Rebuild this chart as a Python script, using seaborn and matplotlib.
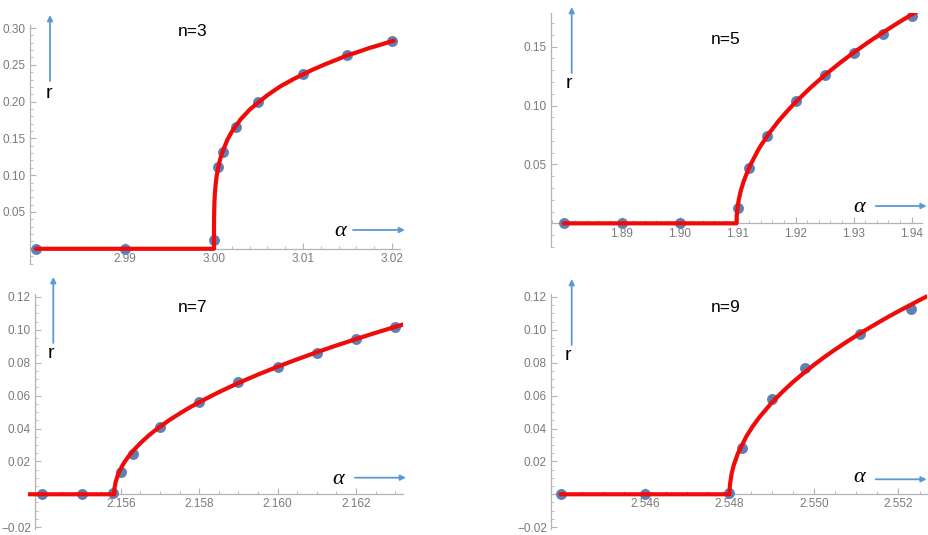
import matplotlib
matplotlib.use("Agg")
import matplotlib.pyplot as plt
from matplotlib.ticker import FixedLocator, MultipleLocator, FixedFormatter
import seaborn as sns

# ---------------- data ----------------
# n = 3
n3_alpha = [2.98, 2.99, 3.0, 3.0005, 3.001, 3.0025, 3.005, 3.01, 3.015, 3.02]
n3_r = [0.0, 0.0, 0.012, 0.111, 0.132, 0.166, 0.199, 0.237, 0.263, 0.282]
n3_curve_alpha = [2.98, 3.0, 3.0000001, 3.000001, 3.00001, 3.00005, 3.0001, 3.0002,
                  3.0003, 3.0005, 3.0007, 3.001, 3.0015, 3.002, 3.003, 3.0035, 3.004,
                  3.005, 3.006, 3.007, 3.0075, 3.008, 3.009, 3.01, 3.011, 3.0125,
                  3.014, 3.015, 3.016, 3.0175, 3.018, 3.0202]
n3_curve_r = [0.0, 0.0, 0.013, 0.024, 0.042, 0.063, 0.075, 0.089,
              0.0987, 0.112, 0.122, 0.133, 0.148, 0.159, 0.176, 0.1824, 0.189,
              0.199, 0.2087, 0.217, 0.221, 0.2243, 0.231, 0.237, 0.2429, 0.2508,
              0.258, 0.263, 0.2667, 0.273, 0.2747, 0.2828]

# n = 5
n5_alpha = [1.88, 1.89, 1.90, 1.91, 1.912, 1.915, 1.92, 1.925, 1.93, 1.935, 1.94]
n5_r = [0.0, 0.0, 0.0, 0.013, 0.047, 0.074, 0.104, 0.126, 0.145, 0.161, 0.176]
n5_curve_alpha = [1.88, 1.9098, 1.90981, 1.90985, 1.9099, 1.910, 1.9102, 1.9105, 1.911,
                  1.912, 1.9135, 1.914, 1.9155, 1.917, 1.9185, 1.92, 1.9225, 1.925,
                  1.9275, 1.93, 1.9325, 1.935, 1.9375, 1.94, 1.9416]
n5_curve_r = [0.0, 0.0, 0.0032, 0.0072, 0.0102, 0.0144, 0.0204, 0.0270, 0.0353,
              0.0478, 0.0620, 0.0661, 0.0770, 0.0866, 0.0951, 0.1030, 0.1149, 0.1258,
              0.1357, 0.1450, 0.1537, 0.1619, 0.1698, 0.1773, 0.1816]

# n = 7
n7_alpha = [2.154, 2.155, 2.1558, 2.156, 2.1563, 2.157, 2.158, 2.159, 2.160, 2.161, 2.162, 2.163]
n7_r = [0.0, 0.0, 0.0005, 0.0134, 0.0245, 0.0407, 0.056, 0.068, 0.0776, 0.0862, 0.0945, 0.1018]
n7_curve_alpha = [2.15364, 2.15583, 2.15584, 2.15587, 2.15593, 2.15603, 2.1561, 2.1562,
                  2.1563, 2.1565, 2.1567, 2.15685, 2.157, 2.15725, 2.1575, 2.15775,
                  2.158, 2.1585, 2.159, 2.1595, 2.160, 2.1605, 2.161, 2.1615,
                  2.162, 2.1625, 2.163, 2.16321]
n7_curve_r = [0.0, 0.0, 0.0038, 0.0076, 0.0120, 0.0170, 0.0198, 0.0231,
              0.0261, 0.0311, 0.0355, 0.0384, 0.0411, 0.0453, 0.0491, 0.0527,
              0.0560, 0.0621, 0.0677, 0.0728, 0.0776, 0.0821, 0.0864, 0.0905,
              0.0944, 0.0982, 0.1018, 0.1033]

# n = 9
n9_alpha = [2.544, 2.546, 2.548, 2.5483, 2.549, 2.5498, 2.5511, 2.5523]
n9_r = [0.0, 0.0, 0.001, 0.028, 0.058, 0.077, 0.0975, 0.1129]
n9_curve_alpha = [2.544, 2.548, 2.54801, 2.54805, 2.5481, 2.5482, 2.5484, 2.54855,
                  2.5487, 2.549, 2.54925, 2.5495, 2.54975, 2.550, 2.55025, 2.5505,
                  2.55075, 2.551, 2.55125, 2.5515, 2.55175, 2.552, 2.55225, 2.5525, 2.55267]
n9_curve_r = [0.0, 0.0, 0.0056, 0.0125, 0.0176, 0.0249, 0.0352, 0.0413,
              0.0466, 0.0557, 0.0622, 0.0682, 0.0736, 0.0787, 0.0835, 0.0880,
              0.0923, 0.0964, 0.1003, 0.1041, 0.1078, 0.1113, 0.1147, 0.1181, 0.1203]

# tick labels
n3_xticks = ["2.99", "3.00", "3.01", "3.02"]
n3_yticks = ["0.05", "0.10", "0.15", "0.20", "0.25", "0.30"]
n5_xticks = ["1.89", "1.90", "1.91", "1.92", "1.93", "1.94"]
n5_yticks = ["0.05", "0.10", "0.15"]
n7_xticks = ["2.156", "2.158", "2.160", "2.162"]
n7_yticks = ["\u22120.02", "0.02", "0.04", "0.06", "0.08", "0.10", "0.12"]
n9_xticks = ["2.546", "2.548", "2.550", "2.552"]
n9_yticks = ["\u22120.02", "0.02", "0.04", "0.06", "0.08", "0.10", "0.12"]
titles = ["n=3", "n=5", "n=7", "n=9"]

# ---------------- style ----------------
sns.set_theme(style="white")
plt.rcParams['font.family'] = ['Liberation Sans', 'DejaVu Sans']

W, H = 929, 535
fig = plt.figure(figsize=(W / 100, H / 100), dpi=100)
fig.patch.set_facecolor("white")

POINT_C = "#5E81B5"
CURVE_C = "#F00A0A"
ARROW_C = "#5B9BD5"
TICK_C = "#7a7a7a"
AXIS_C = "#b4b4b4"


def add_ax(left, top, right, bottom):
    return fig.add_axes([left / W, 1 - bottom / H, (right - left) / W, (bottom - top) / H])


def fy(y):
    return H - y


panels = [
    dict(box=(30, 25.06, 400, 263.5), xlim=(2.97933, 3.0209), ylim=(-0.02, 0.304), spine=2.97933,
         a=n3_alpha, r=n3_r, ca=n3_curve_alpha, cr=n3_curve_r,
         xt=n3_xticks, yt=n3_yticks, xmin=0.002, ymin=0.01,
         varrow=(50, 81, 15), rlab=(49, 94), harrow=(353, 405, 230), alab=(340, 232), title=(193, 32)),
    dict(box=(551, 12.5, 922.3, 246.9), xlim=(1.87781, 1.94183), ylim=(-0.02, 0.179), spine=1.87781,
         a=n5_alpha, r=n5_r, ca=n5_curve_alpha, cr=n5_curve_r,
         xt=n5_xticks, yt=n5_yticks, xmin=0.002, ymin=0.01,
         varrow=(571.7, 73, 7), rlab=(569, 83), harrow=(875.7, 926.7, 206), alab=(859, 208), title=(726, 40)),
    dict(box=(28.3, 293.7, 403.3, 528.8), xlim=(2.15364, 2.163208), ylim=(-0.021, 0.122), spine=2.153815,
         a=n7_alpha, r=n7_r, ca=n7_curve_alpha, cr=n7_curve_r,
         xt=n7_xticks, yt=n7_yticks, xmin=0.0005, ymin=0.005,
         varrow=(53.3, 343, 277), rlab=(51, 354), harrow=(355, 406, 477.7), alab=(338, 480), title=(193, 308)),
    dict(box=(551, 293.7, 926.7, 528.8), xlim=(2.543774, 2.55267), ylim=(-0.021, 0.122), spine=2.543774,
         a=n9_alpha, r=n9_r, ca=n9_curve_alpha, cr=n9_curve_r,
         xt=n9_xticks, yt=n9_yticks, xmin=0.0005, ymin=0.005,
         varrow=(571.7, 345, 279), rlab=(568, 356), harrow=(875.7, 926.7, 479.3), alab=(859, 478), title=(726, 308)),
]

for p, title in zip(panels, titles):
    ax = add_ax(*p["box"])
    ax.set_facecolor("none")
    sns.scatterplot(x=p["a"], y=p["r"], ax=ax, color=POINT_C, s=62, linewidth=0, zorder=2)
    sns.lineplot(x=p["ca"], y=p["cr"], ax=ax, color=CURVE_C, linewidth=3.0, sort=False,
                 estimator=None, zorder=3)
    ax.set_xlim(*p["xlim"])
    ax.set_ylim(*p["ylim"])

    # Mathematica-like axes: crossing at (spine, 0)
    for s in ("top", "right"):
        ax.spines[s].set_visible(False)
    ax.spines["left"].set_position(("data", p["spine"]))
    ax.spines["bottom"].set_position(("data", 0))
    for s in ("left", "bottom"):
        ax.spines[s].set_color(AXIS_C)
        ax.spines[s].set_linewidth(0.9)
        ax.spines[s].set_zorder(1)

    xt_vals = [float(t) for t in p["xt"]]
    yt_vals = [float(t.replace("\u2212", "-")) for t in p["yt"]]
    ax.xaxis.set_major_locator(FixedLocator(xt_vals))
    ax.xaxis.set_major_formatter(FixedFormatter(p["xt"]))
    ax.yaxis.set_major_locator(FixedLocator(yt_vals))
    ax.yaxis.set_major_formatter(FixedFormatter(p["yt"]))
    ax.xaxis.set_minor_locator(MultipleLocator(p["xmin"]))
    ax.yaxis.set_minor_locator(MultipleLocator(p["ymin"]))
    ax.tick_params(which="major", direction="in", length=4, width=0.8, color=AXIS_C,
                   labelsize=8.5, labelcolor=TICK_C, pad=3)
    ax.tick_params(which="minor", direction="in", length=2.2, width=0.6, color=AXIS_C)
    ax.tick_params(axis="both", which="both", bottom=True, left=True, top=False, right=False)
    ax.set_xlabel("")
    ax.set_ylabel("")
    ax.grid(False)

    # annotation arrows / labels (figure pixel coordinates)
    vx, vy0, vy1 = p["varrow"]
    ax.annotate("", xy=(vx, fy(vy1)), xytext=(vx, fy(vy0)), xycoords="figure pixels",
                textcoords="figure pixels", annotation_clip=False,
                arrowprops=dict(arrowstyle="-|>", color=ARROW_C, lw=1.3, mutation_scale=8,
                                shrinkA=0, shrinkB=0))
    hx0, hx1, hy = p["harrow"]
    ax.annotate("", xy=(hx1, fy(hy)), xytext=(hx0, fy(hy)), xycoords="figure pixels",
                textcoords="figure pixels", annotation_clip=False,
                arrowprops=dict(arrowstyle="-|>", color=ARROW_C, lw=1.3, mutation_scale=8,
                                shrinkA=0, shrinkB=0))
    rx, ry = p["rlab"]
    fig.text(rx / W, fy(ry) / H, "r", ha="center", va="center", fontsize=14, color="black")
    axx, axy = p["alab"]
    fig.text(axx / W, fy(axy) / H, "\u03b1", ha="center", va="center", fontsize=16,
             color="black", family=["Liberation Serif", "DejaVu Serif"], style="italic")
    tx, ty = p["title"]
    fig.text(tx / W, fy(ty) / H, title, ha="center", va="center", fontsize=12.5, color="black")

fig.savefig("out.png", dpi=100)
